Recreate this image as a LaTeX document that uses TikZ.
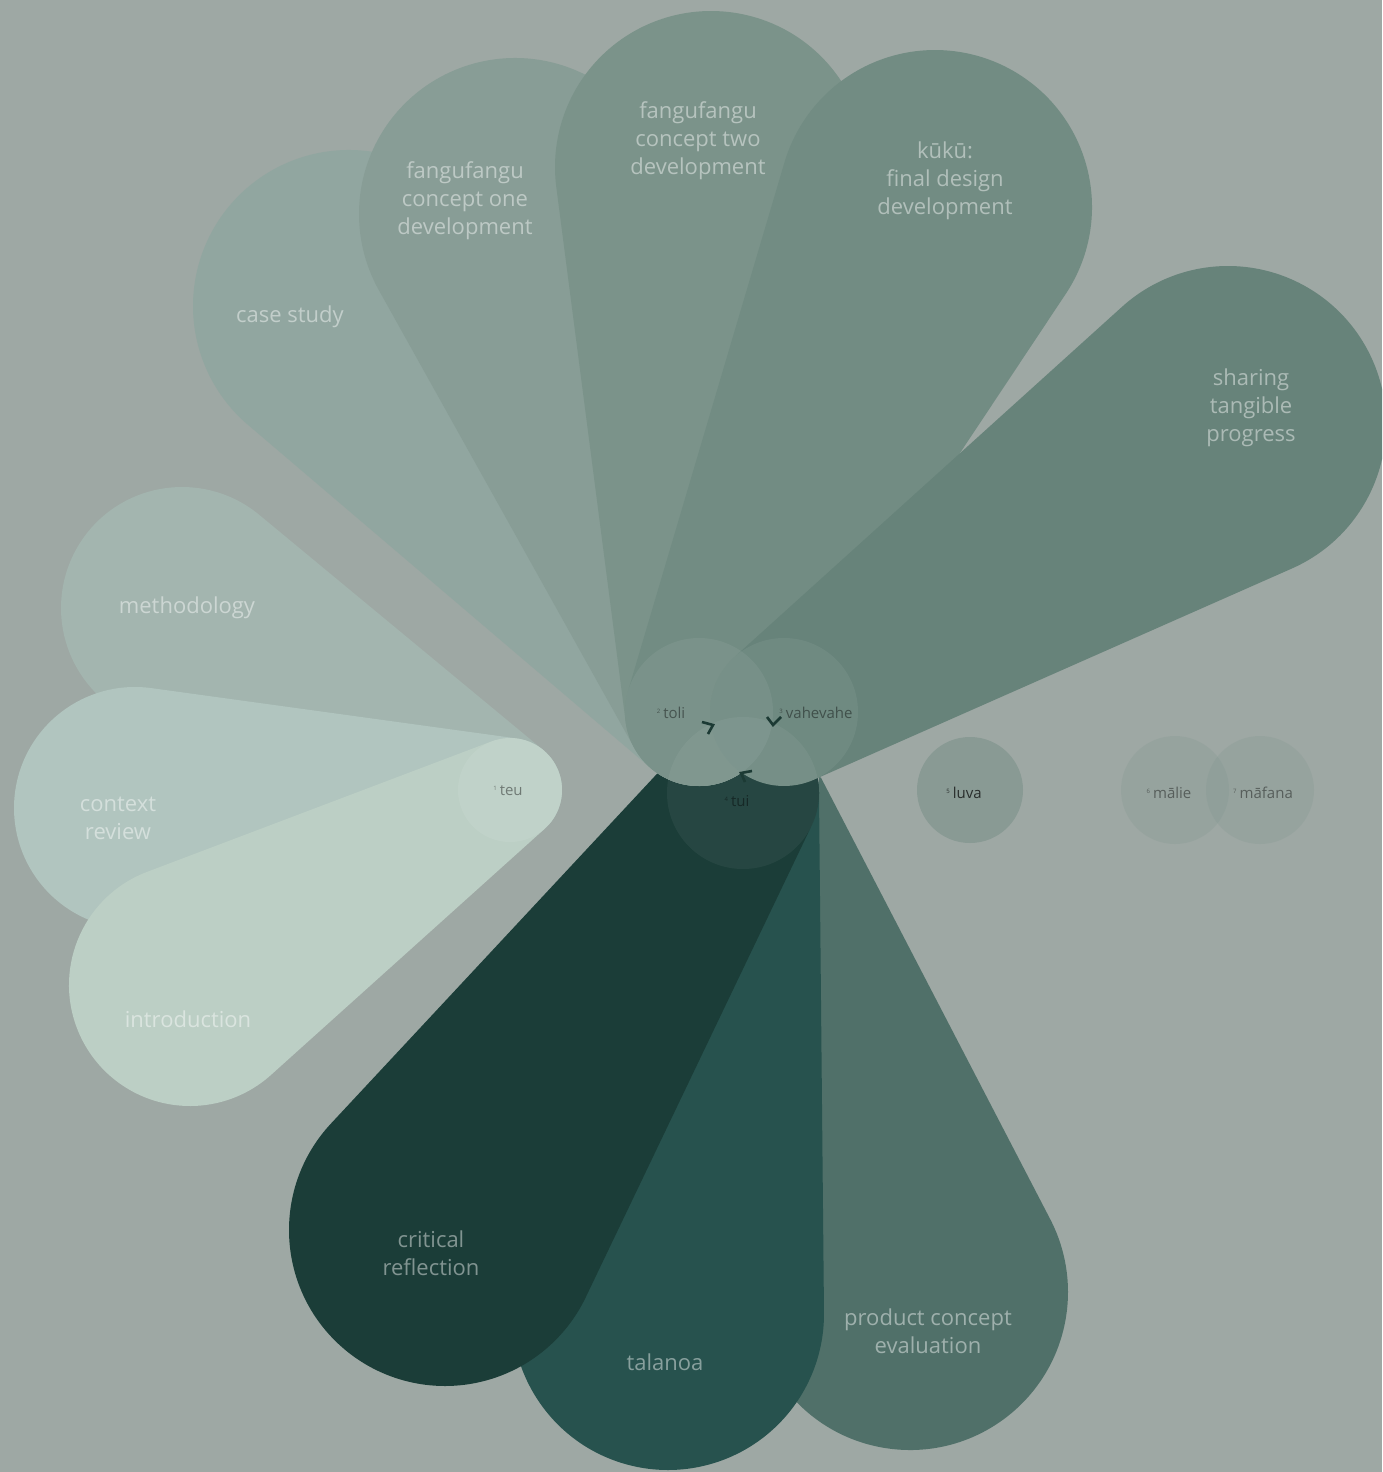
\documentclass[tikz,border=0pt]{standalone}
\usepackage{fontspec}
\setmainfont{Open Sans}
\usetikzlibrary{calc}
\definecolor{bgc}{HTML}{9EA8A4}
\definecolor{cMeth}{HTML}{A3B5AF}
\definecolor{cCtx}{HTML}{B1C5BF}
\definecolor{cIntro}{HTML}{BCCFC5}
\definecolor{cCase}{HTML}{91A6A0}
\definecolor{cOne}{HTML}{889D96}
\definecolor{cTwo}{HTML}{7B938A}
\definecolor{cKuku}{HTML}{728C83}
\definecolor{cShare}{HTML}{67837A}
\definecolor{cCrit}{HTML}{1B3D38}
\definecolor{cTala}{HTML}{27524E}
\definecolor{cProd}{HTML}{507069}
\definecolor{cLuva}{HTML}{899A94}
\definecolor{cSoft}{HTML}{78918A}
\definecolor{cChev}{HTML}{1C3A34}
% hull of a big circle (#2, radius #3) and a small circle (#4, radius #5)
\newcommand\hullpetal[5]{%
  \fill[#1] let \p1=($(#4)-(#2)$), \n1={veclen(\x1,\y1)}, \n2={atan2(\y1,\x1)}, \n3={acos((#3-#5)/\n1)} in
    ($(#4)+(\n2+\n3:#5pt)$) -- ($(#2)+(\n2+\n3:#3pt)$)
    arc[start angle=\n2+\n3, end angle=\n2-\n3+360, radius=#3pt]
    -- ($(#4)+(\n2-\n3:#5pt)$)
    arc[start angle=\n2-\n3, end angle=\n2+\n3, radius=#5pt] -- cycle;}
\newcommand\stagenum[1]{\raisebox{5pt}{\fontsize{6}{6}\selectfont #1}\hspace{3pt}}
\begin{document}
\begin{tikzpicture}[x=1pt,y=1pt,
  plabel/.style={text=white,text opacity=0.45,align=center,inner sep=0pt,font=\fontsize{22}{28}\selectfont},
  slabel/.style={text=black,text opacity=0.42,inner sep=0pt,font=\fontsize{15}{18}\selectfont},
  ring/.style={circle,inner sep=0pt,fill=white,fill opacity=0.06},
  chev/.style={draw=cChev,line width=2.6pt,line join=miter}]
\fill[bgc] (0,0) rectangle (1382,-1472);
\useasboundingbox (0,0) rectangle (1382,-1472);
\clip (0,0) rectangle (1382,-1472);
% left group (teu)
\hullpetal{cMeth}{182,-608}{121}{510,-790}{52}
\hullpetal{cCtx}{135,-808}{121}{510,-790}{52}
\hullpetal{cIntro}{190,-985}{121}{510,-790}{52}
% lower group (tui)
\hullpetal{cProd}{910,-1292}{158}{820,-778}{1}
\hullpetal{cTala}{668,-1314}{156}{743,-793}{76}
\hullpetal{cCrit}{445,-1230}{156}{743,-793}{76}
% upper group (toli / vahevahe)
\hullpetal{cCase}{349,-306}{156}{699,-712}{74}
\hullpetal{cOne}{515,-214}{156}{699,-712}{74}
\hullpetal{cTwo}{711,-167}{156}{699,-712}{74}
\hullpetal{cKuku}{935,-207}{157}{699,-712}{74}
\hullpetal{cShare}{1228,-424}{158}{784,-712}{74}
% stage circles
\node[ring,fill opacity=0.07,minimum size=104pt] (teuC) at (510,-790) {};
\node[ring,minimum size=148pt] (toliC) at (699,-712) {};
\node[ring,minimum size=148pt] (vahevaheC) at (784,-712) {};
\node[ring,fill opacity=0.05,minimum size=152pt] (tuiC) at (743,-793) {};
\node[circle,inner sep=0pt,fill=cLuva,minimum size=106pt] (luvaC) at (970,-790) {};
\node[circle,inner sep=0pt,fill=cSoft,fill opacity=0.2,minimum size=108pt] (malieC) at (1175,-790) {};
\node[circle,inner sep=0pt,fill=cSoft,fill opacity=0.2,minimum size=108pt] (mafanaC) at (1260,-790) {};
% cycle chevrons
\draw[chev] (702,-722) -- (713,-725) -- (708,-734);
\draw[chev] (767,-717) -- (773,-725) -- (781,-717);
\draw[chev] (752,-771) -- (741,-773) -- (745,-782);
% petal labels
\node[plabel] (lCase) at (290,-317) {case study};
\node[plabel] (lOne) at (465,-201) {fangufangu\\concept one\\development};
\node[plabel] (lTwo) at (698,-141) {fangufangu\\concept two\\development};
\node[plabel] (lKuku) at (945,-181) {kūkū:\\final design\\development};
\node[plabel] (lShare) at (1251,-408) {sharing\\tangible\\progress};
\node[plabel] (lMeth) at (187,-608) {methodology};
\node[plabel] (lCtx) at (118,-818) {context\\review};
\node[plabel] (lIntro) at (188,-1019) {introduction};
\node[plabel] (lCrit) at (431,-1253) {critical\\reflection};
\node[plabel] (lTala) at (665,-1362) {talanoa};
\node[plabel] (lProd) at (928,-1331) {product concept\\evaluation};
% stage labels
\node[slabel] (lTeu) at (508,-791) {\stagenum{1}teu};
\node[slabel] (lToli) at (671,-713) {\stagenum{2}toli};
\node[slabel] (lVahe) at (816,-713) {\stagenum{3}vahevahe};
\node[slabel] (lTui) at (737,-801) {\stagenum{4}tui};
\node[slabel,text opacity=0.7] (lLuva) at (964,-793) {\stagenum{5}luva};
\node[slabel] (lMalie) at (1169,-793) {\stagenum{6}mālie};
\node[slabel] (lMafana) at (1263,-793) {\stagenum{7}māfana};
\end{tikzpicture}
\end{document}
